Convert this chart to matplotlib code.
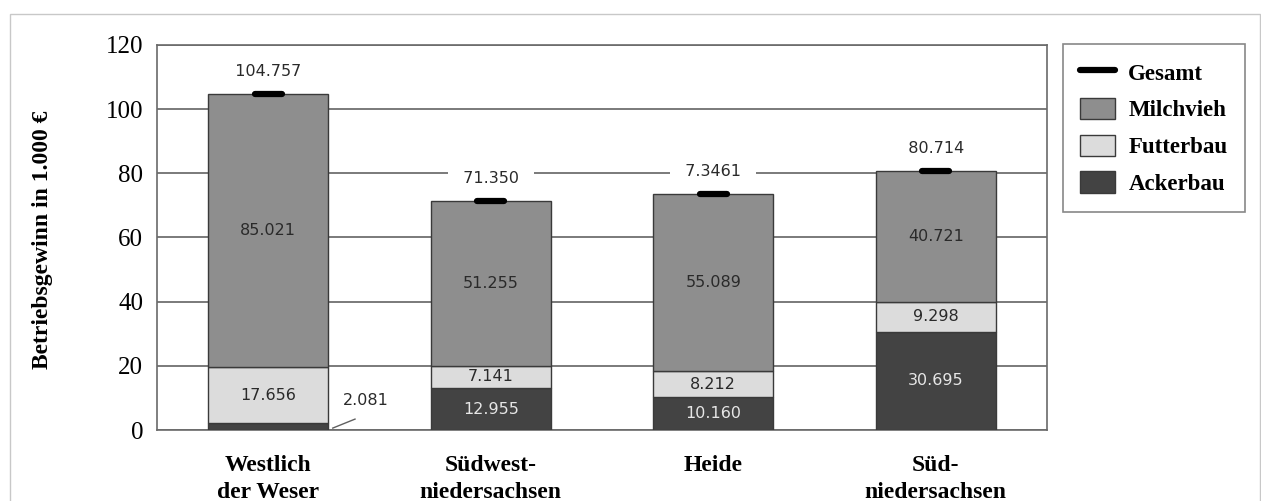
import numpy as np
import matplotlib.pyplot as plt
from matplotlib.patches import Rectangle, Patch
from matplotlib.lines import Line2D

# Betriebsgewinn je Region, in 1.000 Euro
regions = ["Westlich\nder Weser", "Südwest-\nniedersachsen", "Heide", "Süd-\nniedersachsen"]
ackerbau = [2.081, 12.955, 10.160, 30.695]
futterbau = [17.656, 7.141, 8.212, 9.298]
milchvieh = [85.021, 51.255, 55.089, 40.721]
gesamt = [104.757, 71.350, 73.461, 80.714]
gesamt_labels = ["104.757", "71.350", "7.3461", "80.714"]

col_milch = "#8e8e8e"
col_futter = "#dcdcdc"
col_acker = "#434343"
edge = "#3a3a3a"

fig = plt.figure(figsize=(12.61, 5.01), dpi=100)
ax = fig.add_axes([0.1245, 0.1417, 0.7058, 0.7685])

x = np.arange(len(regions))
w = 0.54
ackerbau = np.array(ackerbau)
futterbau = np.array(futterbau)
milchvieh = np.array(milchvieh)

ax.bar(x, ackerbau, w, color=col_acker, edgecolor=edge, linewidth=1, zorder=3)
ax.bar(x, futterbau, w, bottom=ackerbau, color=col_futter, edgecolor=edge, linewidth=1, zorder=3)
ax.bar(x, milchvieh, w, bottom=ackerbau + futterbau, color=col_milch, edgecolor=edge, linewidth=1, zorder=3)

# Gesamt-Markierung auf jedem Balken
for xi, g in zip(x, gesamt):
    ax.plot([xi - 0.06, xi + 0.06], [g, g], color="black", linewidth=4.5,
            solid_capstyle="round", zorder=4)

val_font = dict(family="DejaVu Sans", fontsize=11.5, ha="center", va="center")

# Werte in den Segmenten
for i in range(len(x)):
    ax.text(x[i], ackerbau[i] + futterbau[i] + milchvieh[i] / 2, f"{milchvieh[i]:.3f}",
            color="#2a2a2a", zorder=5, **val_font)
    ax.text(x[i], ackerbau[i] + futterbau[i] / 2, f"{futterbau[i]:.3f}",
            color="#2a2a2a", zorder=5, **val_font)
    if i > 0:
        ax.text(x[i], ackerbau[i] / 2, f"{ackerbau[i]:.3f}", color="#e6e6e6",
                zorder=5, **val_font)

# kleines Ackerbau-Segment mit Hinweislinie
ax.plot([x[0] + 0.29, x[0] + 0.39], [0.6, 3.4], color="#606060", linewidth=1, zorder=4)
ax.text(x[0] + 0.44, 9.3, f"{ackerbau[0]:.3f}", color="#2a2a2a", zorder=5, **val_font)

# Summenbeschriftung über den Balken (weißer Kasten unterbricht die Gitterlinie)
for xi, g, lab in zip(x, gesamt, gesamt_labels):
    ax.text(xi, g + 7, "  " + lab + "  ", color="#2a2a2a", zorder=2,
            bbox=dict(boxstyle="square,pad=0.3", fc="white", ec="none"), **val_font)

ax.set_xlim(-0.5, 3.5)
ax.set_ylim(0, 120)
ax.set_yticks(np.arange(0, 121, 20))
ax.set_xticks(x)
ax.set_xticklabels(regions, fontsize=17, fontweight="bold", family="Liberation Serif",
                   linespacing=1.4)
for t in ax.get_yticklabels():
    t.set_family("Liberation Serif")
    t.set_fontsize(18)
ax.tick_params(axis="both", length=0)
ax.tick_params(axis="y", pad=10)
ax.tick_params(axis="x", pad=18)
ax.grid(axis="y", color="#7a7a7a", linewidth=1.4)
ax.set_axisbelow(True)
for s in ax.spines.values():
    s.set_color("#6a6a6a")
    s.set_linewidth(1.2)

fig.text(43 / 1261, 1 - 240 / 501, "Betriebsgewinn in 1.000 €", rotation=90,
         ha="center", va="center", fontsize=17, fontweight="bold", family="Liberation Serif")

handles = [
    Line2D([0], [0], color="black", linewidth=4.5, solid_capstyle="round"),
    Patch(facecolor=col_milch, edgecolor=edge),
    Patch(facecolor=col_futter, edgecolor=edge),
    Patch(facecolor=col_acker, edgecolor=edge),
]
leg = fig.legend(handles, ["Gesamt", "Milchvieh", "Futterbau", "Ackerbau"],
                 loc="upper left", bbox_to_anchor=(1063 / 1261, 1 - 44 / 501),
                 borderaxespad=0, fancybox=False, edgecolor="#6a6a6a",
                 prop={"family": "Liberation Serif", "weight": "bold", "size": 16.5},
                 handlelength=1.5, handleheight=1.05, labelspacing=0.58,
                 borderpad=0.75, handletextpad=0.6)
leg.get_frame().set_linewidth(1.2)

# äußerer Rahmen
fig.patches.append(Rectangle((10 / 1261, -0.2), 1250 / 1261, 0.2 + 1 - 14 / 501,
                             transform=fig.transFigure, fill=False,
                             edgecolor="#c8c8c8", linewidth=1))

fig.savefig("out.png", dpi=100)
